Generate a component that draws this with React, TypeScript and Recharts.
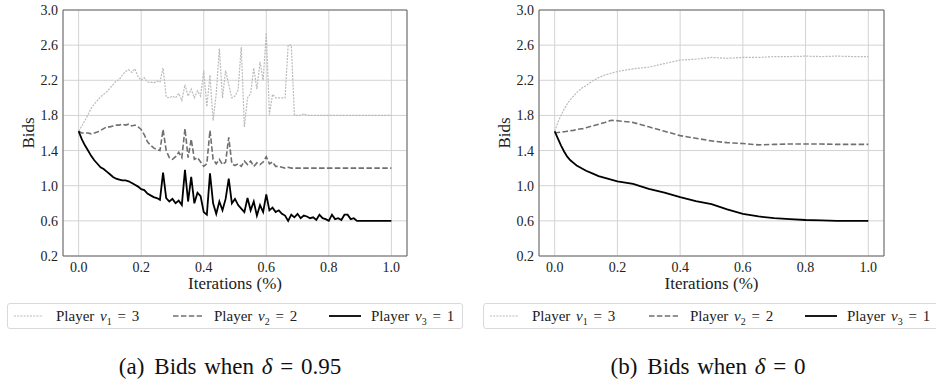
import React from 'react';
import { CartesianGrid, Line, LineChart, ReferenceArea, XAxis, YAxis } from 'recharts';

const FONT = "'Liberation Serif', 'DejaVu Serif', 'Noto Serif', 'Times New Roman', Times, serif";

// (a) delta = 0.95, one sample per 1% of the iterations
const leftIterations = [
  0, 0.01, 0.02, 0.03, 0.04, 0.05, 0.06, 0.07, 0.08, 0.09,
  0.1, 0.11, 0.12, 0.13, 0.14, 0.15, 0.16, 0.17, 0.18, 0.19,
  0.2, 0.21, 0.22, 0.23, 0.24, 0.25, 0.26, 0.27, 0.28, 0.29,
  0.3, 0.31, 0.32, 0.33, 0.34, 0.35, 0.36, 0.37, 0.38, 0.39,
  0.4, 0.41, 0.42, 0.43, 0.44, 0.45, 0.46, 0.47, 0.48, 0.49,
  0.5, 0.51, 0.52, 0.53, 0.54, 0.55, 0.56, 0.57, 0.58, 0.59,
  0.6, 0.61, 0.62, 0.63, 0.64, 0.65, 0.66, 0.67, 0.68, 0.69,
  0.7, 0.71, 0.72, 0.73, 0.74, 0.75, 0.76, 0.77, 0.78, 0.79,
  0.8, 0.81, 0.82, 0.83, 0.84, 0.85, 0.86, 0.87, 0.88, 0.89,
  0.9, 0.91, 0.92, 0.93, 0.94, 0.95, 0.96, 0.97, 0.98, 0.99,
  1,
];
const leftBidsV1 = [
  1.62, 1.68, 1.74, 1.81, 1.88, 1.93, 1.97, 2.01, 2.04, 2.07,
  2.11, 2.15, 2.19, 2.21, 2.26, 2.3, 2.32, 2.29, 2.33, 2.24,
  2.2, 2.23, 2.18, 2.18, 2.17, 2.19, 2.18, 2.34, 2.01, 2.0,
  2.02, 2.0, 2.05, 1.97, 2.15, 2.02, 2.1, 2.0, 2.08, 2.02,
  2.31, 1.9, 2.26, 1.74, 2.05, 2.56, 2.0, 2.31, 2.15, 2.0,
  2.02, 2.09, 2.58, 1.67, 2.0, 2.05, 2.34, 2.1, 2.41, 2.2,
  2.74, 1.81, 2.04, 2.0, 2.0, 2.0, 2.0, 2.6, 2.6, 1.8,
  1.8, 1.8, 1.82, 1.8, 1.8, 1.8, 1.8, 1.8, 1.8, 1.8,
  1.8, 1.8, 1.8, 1.8, 1.8, 1.8, 1.8, 1.8, 1.8, 1.8,
  1.8, 1.8, 1.8, 1.8, 1.8, 1.8, 1.8, 1.8, 1.8, 1.8,
  1.8,
];
const leftBidsV2 = [
  1.62, 1.6, 1.6, 1.6, 1.59, 1.6, 1.61, 1.63, 1.65, 1.67,
  1.67, 1.68, 1.69, 1.69, 1.7, 1.69, 1.7, 1.68, 1.69, 1.67,
  1.64, 1.58, 1.5, 1.46, 1.43, 1.41, 1.4, 1.64, 1.4, 1.32,
  1.3, 1.33, 1.38, 1.32, 1.65, 1.32, 1.53, 1.3, 1.32, 1.27,
  1.22, 1.25, 1.63, 1.3, 1.25, 1.3, 1.24, 1.27, 1.55, 1.25,
  1.23, 1.25, 1.22, 1.28, 1.24, 1.28, 1.22, 1.26, 1.24, 1.27,
  1.33, 1.25, 1.27, 1.22, 1.22, 1.21, 1.2, 1.21, 1.2, 1.2,
  1.2, 1.2, 1.2, 1.2, 1.2, 1.2, 1.2, 1.2, 1.2, 1.2,
  1.2, 1.2, 1.2, 1.2, 1.2, 1.2, 1.2, 1.2, 1.2, 1.2,
  1.2, 1.2, 1.2, 1.2, 1.2, 1.2, 1.2, 1.2, 1.2, 1.2,
  1.2,
];
const leftBidsV3 = [
  1.62, 1.53, 1.46, 1.4, 1.34, 1.29, 1.25, 1.21, 1.19, 1.16,
  1.13, 1.1, 1.08, 1.07, 1.06, 1.06, 1.05, 1.03, 1.01, 0.99,
  0.96, 0.95, 0.91, 0.89, 0.87, 0.86, 0.84, 1.15, 0.86, 0.82,
  0.85, 0.8, 0.83, 0.78, 1.18, 0.82, 1.1, 0.8, 0.92, 0.88,
  0.7, 0.67, 1.14, 0.8, 0.68, 0.82, 0.72, 0.85, 1.08, 0.8,
  0.85, 0.78, 0.74, 0.7, 0.86, 0.72, 0.82, 0.66, 0.78, 0.7,
  0.9, 0.72, 0.75, 0.7, 0.72, 0.68, 0.66, 0.6, 0.67, 0.64,
  0.68, 0.63, 0.66, 0.65, 0.63, 0.64, 0.61, 0.67, 0.63, 0.62,
  0.6, 0.67, 0.62, 0.63, 0.61, 0.67, 0.67, 0.62, 0.63, 0.6,
  0.6, 0.6, 0.6, 0.6, 0.6, 0.6, 0.6, 0.6, 0.6, 0.6,
  0.6,
];

// (b) delta = 0
const rightIterations = [
  0, 0.01, 0.02, 0.03, 0.04, 0.05, 0.06, 0.07, 0.08, 0.09,
  0.1, 0.12, 0.14, 0.16, 0.18, 0.2, 0.25, 0.3, 0.35, 0.4,
  0.45, 0.5, 0.55, 0.6, 0.65, 0.7, 0.75, 0.8, 0.85, 0.9,
  0.95, 1,
];
const rightBidsV1 = [
  1.62, 1.72, 1.8, 1.87, 1.93, 1.98, 2.02, 2.06, 2.09, 2.12,
  2.14, 2.19, 2.23, 2.26, 2.28, 2.3, 2.33, 2.35, 2.39, 2.43,
  2.44, 2.46, 2.45, 2.46, 2.46, 2.47, 2.47, 2.475, 2.47, 2.475,
  2.47, 2.47,
];
const rightBidsV2 = [
  1.6, 1.605, 1.61, 1.615, 1.62, 1.625, 1.63, 1.64, 1.645, 1.65,
  1.66, 1.68, 1.7, 1.72, 1.745, 1.74, 1.72, 1.67, 1.62, 1.57,
  1.54, 1.51, 1.49, 1.48, 1.465, 1.47, 1.475, 1.475, 1.475, 1.47,
  1.47, 1.47,
];
const rightBidsV3 = [
  1.62, 1.54, 1.46, 1.39, 1.33, 1.29, 1.26, 1.23, 1.21, 1.19,
  1.17, 1.14, 1.11, 1.09, 1.07, 1.05, 1.02, 0.965, 0.92, 0.87,
  0.825, 0.79, 0.73, 0.68, 0.65, 0.63, 0.62, 0.61, 0.605, 0.6,
  0.6, 0.6,
];

const xTicks = [0, 0.2, 0.4, 0.6, 0.8, 1.0];
const yTicks = [0.2, 0.6, 1.0, 1.4, 1.8, 2.2, 2.6, 3.0];

const players = [
  { key: 'v1', sub: '1', valuation: 3, stroke: '#bababa', dash: '2 1.2', width: 1.2 },
  { key: 'v2', sub: '2', valuation: 2, stroke: '#707070', dash: '5.5 2.4', width: 1.6 },
  { key: 'v3', sub: '3', valuation: 1, stroke: '#000000', dash: undefined, width: 1.8 },
];

function toRows(xs: number[], a: number[], b: number[], c: number[]) {
  return xs.map((x, i) => ({ x, v1: a[i], v2: b[i], v3: c[i] }));
}

const leftRows = toRows(leftIterations, leftBidsV1, leftBidsV2, leftBidsV3);
const rightRows = toRows(rightIterations, rightBidsV1, rightBidsV2, rightBidsV3);

const tickStyle = { fontSize: 14, fill: '#222', fontFamily: FONT };

function BidsPanel({ data, width, marginRight }: { data: any[]; width: number; marginRight: number }) {
  return (
    <LineChart
      width={width}
      height={292}
      data={data}
      margin={{ top: 10, right: marginRight, left: 23, bottom: 0 }}
      style={{ fontFamily: FONT }}
    >
      <CartesianGrid stroke="#d3d3d3" strokeWidth={1} />
      <XAxis
        dataKey="x"
        type="number"
        domain={[-0.05, 1.05]}
        ticks={xTicks}
        interval={0}
        allowDataOverflow
        tickFormatter={(v: number) => v.toFixed(1)}
        axisLine={false}
        tickLine={false}
        tickSize={4}
        tickMargin={2}
        height={36}
        tick={tickStyle}
        label={(p: any) => {
          const vb = p.viewBox;
          return (
            <text
              x={vb.x + vb.width / 2}
              y={vb.y + 33}
              textAnchor="middle"
              fontSize={17}
              style={{ fontFamily: FONT }}
              fill="#222"
            >
              Iterations (%)
            </text>
          );
        }}
      />
      <YAxis
        type="number"
        domain={[0.2, 3.0]}
        ticks={yTicks}
        interval={0}
        allowDataOverflow
        tickFormatter={(v: number) => v.toFixed(1)}
        axisLine={false}
        tickLine={false}
        tickSize={3}
        tickMargin={2}
        width={40}
        tick={tickStyle}
        label={(p: any) => {
          const vb = p.viewBox;
          const cx = vb.x + 5.5;
          const cy = vb.y + vb.height / 2;
          return (
            <text
              x={cx}
              y={cy}
              transform={`rotate(-90 ${cx} ${cy})`}
              textAnchor="middle"
              dominantBaseline="central"
              fontSize={17}
              style={{ fontFamily: FONT }}
              fill="#222"
            >
              Bids
            </text>
          );
        }}
      />
      {players.map((p) => (
        <Line
          key={p.key}
          dataKey={p.key}
          type="linear"
          stroke={p.stroke}
          strokeWidth={p.width}
          strokeDasharray={p.dash}
          dot={false}
          activeDot={false}
          isAnimationActive={false}
        />
      ))}
      <ReferenceArea x1={-0.05} x2={1.05} y1={0.2} y2={3.0} fill="none" stroke="#666" strokeWidth={1} />
    </LineChart>
  );
}

const iconLeft = [6, 165, 321];
const textLeft = [48, 206, 363];

function PlayersLegend({ left }: { left: number }) {
  return (
    <div
      style={{
        position: 'absolute',
        left,
        top: 303,
        width: 456,
        height: 26,
        border: '1px solid #dadada',
        borderRadius: 3,
        boxSizing: 'border-box',
        fontFamily: FONT,
        fontSize: 15,
        color: '#222',
      }}
    >
      {players.map((p, i) => (
        <React.Fragment key={p.key}>
          <svg
            width={32}
            height={10}
            style={{ position: 'absolute', left: iconLeft[i], top: 7 }}
          >
            <line
              x1={0}
              y1={5}
              x2={i === 2 ? 32 : 29}
              y2={5}
              stroke={p.stroke}
              strokeWidth={p.width}
              strokeDasharray={p.dash}
            />
          </svg>
          <span
            style={{
              position: 'absolute',
              left: textLeft[i],
              top: 2,
              lineHeight: '20px',
              whiteSpace: 'nowrap',
              wordSpacing: 2,
            }}
          >
            Player <i>v</i>
            <sub style={{ fontSize: 10, lineHeight: 0 }}>{p.sub}</sub> = {p.valuation}
          </span>
        </React.Fragment>
      ))}
    </div>
  );
}

function Caption({ center, label, delta }: { center: number; label: string; delta: string }) {
  return (
    <div
      style={{
        position: 'absolute',
        left: center - 200,
        width: 400,
        top: 352,
        textAlign: 'center',
        fontFamily: FONT,
        fontSize: 23,
        wordSpacing: 2,
        color: '#111',
        lineHeight: '30px',
        whiteSpace: 'nowrap',
      }}
    >
      <span style={{ marginRight: 10 }}>({label})</span>Bids when <i>δ</i> = {delta}
    </div>
  );
}

export default function App() {
  return (
    <div
      style={{
        position: 'absolute',
        left: 0,
        top: 0,
        width: 936,
        height: 385,
        overflow: 'hidden',
        background: '#fff',
        fontFamily: FONT,
      }}
    >
      <div style={{ position: 'absolute', left: 0, top: 0 }}>
        <BidsPanel data={leftRows} width={420} marginRight={13} />
      </div>
      <div style={{ position: 'absolute', left: 476, top: 0 }}>
        <BidsPanel data={rightRows} width={460} marginRight={52} />
      </div>
      <PlayersLegend left={7} />
      <PlayersLegend left={483} />
      <Caption center={230} label="a" delta="0.95" />
      <Caption center={708} label="b" delta="0" />
    </div>
  );
}
